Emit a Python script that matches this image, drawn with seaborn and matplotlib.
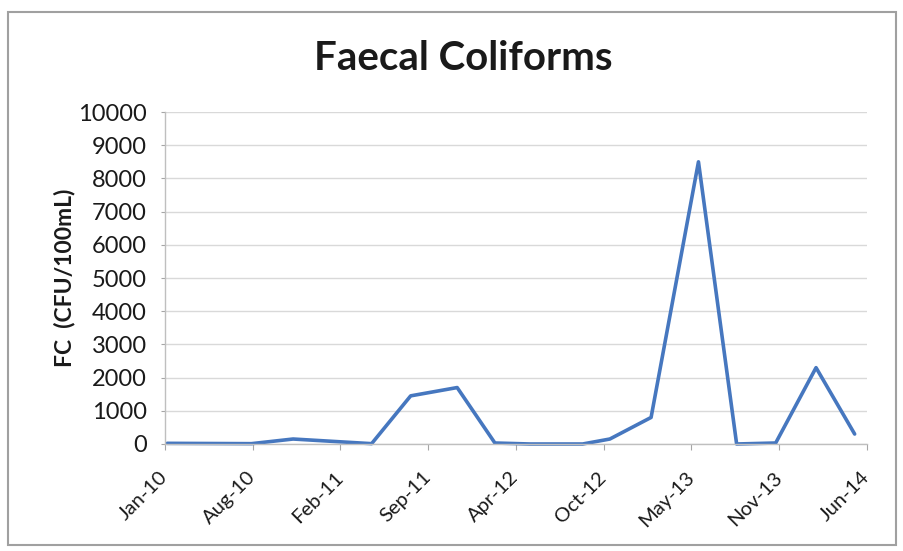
import matplotlib
matplotlib.use("Agg")
import matplotlib.pyplot as plt
import matplotlib.transforms as mtransforms
import seaborn as sns
import pandas as pd

# Faecal coliform samples (CFU/100mL)
sample_dates = [
    "2010-01-27", "2010-08-07", "2010-11-10", "2011-05-08", "2011-08-05",
    "2011-11-19", "2012-02-13", "2012-05-03", "2012-08-31", "2012-11-01",
    "2013-02-03", "2013-05-22", "2013-08-17", "2013-11-14", "2014-02-14",
    "2014-05-13",
]
fc_values = [20, 10, 150, 10, 1450, 1700, 30, 0, 0, 150, 800, 8500, 0, 30, 2300, 300]

# Date axis: ticks every 200 days
tick_start = "2010-01-22"
tick_step_days = 200
tick_labels = ["Jan-10", "Aug-10", "Feb-11", "Sep-11", "Apr-12",
               "Oct-12", "May-13", "Nov-13", "Jun-14"]
y_ticks = [0, 1000, 2000, 3000, 4000, 5000, 6000, 7000, 8000, 9000, 10000]

sns.set_theme(style="white")
plt.rcParams["font.family"] = ["Lato", "DejaVu Sans"]

fig = plt.figure(figsize=(9.04, 5.51), dpi=100)
ax = fig.add_axes([0.1825, 0.1942, 0.959 - 0.1825, 0.7967 - 0.1942])

df = pd.DataFrame({"date": pd.to_datetime(sample_dates), "fc": fc_values})
sns.lineplot(data=df, x="date", y="fc", ax=ax, color="#4677BF",
             linewidth=2.6, estimator=None, clip_on=False)

tick_dates = pd.date_range(tick_start, periods=len(tick_labels),
                           freq=f"{tick_step_days}D")
ax.set_ylim(y_ticks[0], y_ticks[-1])
ax.set_xlim(tick_dates[0], tick_dates[-1])
ax.set_yticks(y_ticks)
ax.set_yticklabels([str(v) for v in y_ticks])
ax.set_xticks(tick_dates)
ax.set_xticklabels(tick_labels, rotation=45, ha="right", va="center",
                   rotation_mode="anchor")
# nudge the slanted date labels slightly to the right
shift = mtransforms.ScaledTranslation(3 / 100, 0, fig.dpi_scale_trans)
for lbl in ax.get_xticklabels():
    lbl.set_transform(lbl.get_transform() + shift)
ax.set_xlabel("")
ax.set_ylabel("")

ax.yaxis.grid(True, color="#D9D9D9", linewidth=1.0)
ax.xaxis.grid(False)
for side in ("top", "right"):
    ax.spines[side].set_visible(False)
for side in ("left", "bottom"):
    ax.spines[side].set_color("#BFBFBF")
    ax.spines[side].set_linewidth(1.0)

ax.tick_params(axis="y", left=True, length=3, width=0.8, color="#A6A6A6",
               pad=10, labelsize=17, labelcolor="#1A1A1A")
ax.tick_params(axis="x", bottom=True, length=4, width=0.8, color="#A6A6A6",
               pad=18, labelsize=14.5, labelcolor="#1A1A1A")

fig.text(463 / 904, 1 - 58 / 551, "Faecal Coliforms", ha="center",
         va="center", fontsize=29, fontweight="bold", color="#1A1A1A")
fig.text(65 / 904, 1 - 278 / 551, "FC  (CFU/100mL)", ha="center",
         va="center", rotation=90, fontsize=16.5, fontweight="bold",
         color="#1A1A1A")

fig.add_artist(plt.Rectangle((0.009, 0.011), 0.982, 0.967,
                             transform=fig.transFigure, fill=False,
                             edgecolor="#A0A0A0", linewidth=1.5))

fig.savefig("out.png", dpi=100)
